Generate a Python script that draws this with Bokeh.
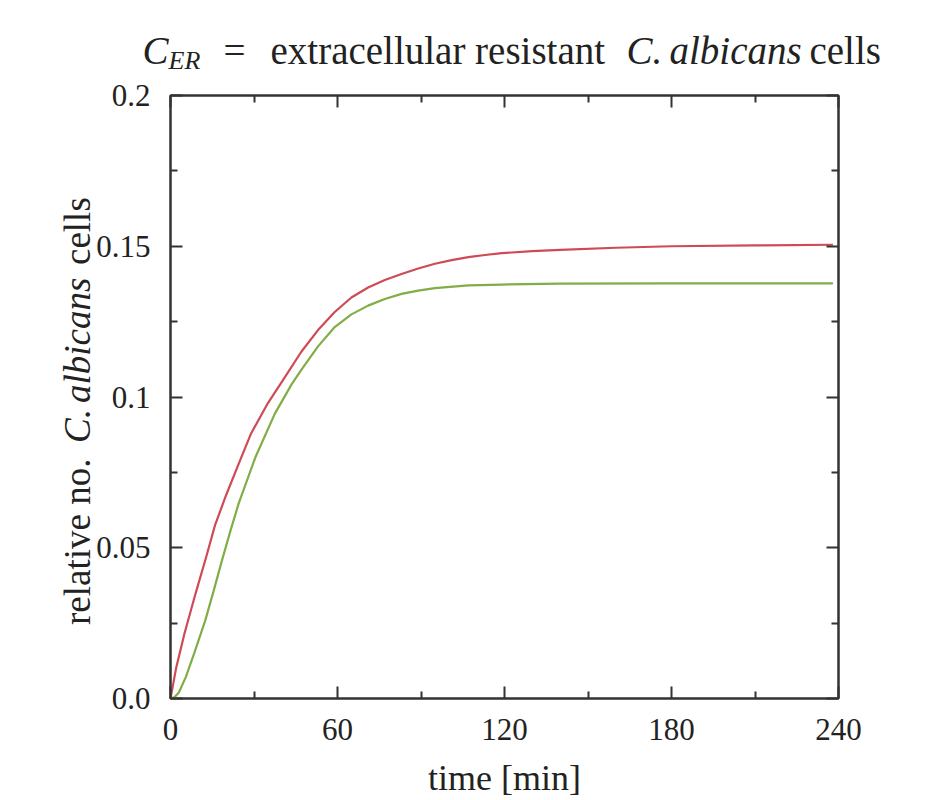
from bokeh.plotting import figure
from bokeh.models import FixedTicker, LinearAxis, Range1d, Div
from bokeh.layouts import column, row
from bokeh.core.properties import value
from bokeh.embed import file_html
from bokeh.resources import INLINE

# ---- data ----
time_red = [0, 2, 5, 9, 13, 16, 20, 25, 29, 35, 40, 47, 53, 59, 65, 71, 77, 83, 89, 95, 101, 107, 113, 119, 130, 140, 160, 180, 210, 238]
red_vals = [0.0, 0.010, 0.0215, 0.0348, 0.0475, 0.0575, 0.0675, 0.0790, 0.0880, 0.0980, 0.1050, 0.1150, 0.1222, 0.1282, 0.1330, 0.1363, 0.1388, 0.1408, 0.1426, 0.1442, 0.1454, 0.1464, 0.1471, 0.1477, 0.1484, 0.1488, 0.1495, 0.1500, 0.1503, 0.1505]

time_green = [0, 1.5, 3, 5.5, 8.5, 12.5, 15.5, 18.5, 21.5, 24.5, 30.5, 37.5, 43.5, 47, 53, 59, 65, 71, 77, 83, 89, 95, 107, 119, 140, 180, 238]
green_vals = [0.0, 0.0005, 0.0020, 0.0071, 0.0150, 0.0259, 0.0357, 0.0458, 0.0555, 0.0647, 0.0800, 0.0945, 0.1042, 0.1090, 0.1168, 0.1232, 0.1274, 0.1303, 0.1325, 0.1342, 0.1353, 0.1361, 0.1370, 0.1373, 0.1376, 0.1377, 0.1377]

x_major = [0, 60, 120, 180, 240]
x_minor = [30, 90, 150, 210]
y_major = [0, 0.05, 0.1, 0.15, 0.2]
y_minor = [0.025, 0.075, 0.125, 0.175]
y_tick_labels = ["0.0", "0.05", "0.1", "0.15", "0.2"]

title_parts = ["C", "ER", "=", "extracellular resistant", "C.", "albicans", "cells"]
ylabel_parts = ["relative no.", "C.", "albicans", "cells"]
xlabel = "time [min]"

FONT = "Liberation Serif"
AX = "#333333"
TXT = "#222222"

TOTAL_W = 900
TITLE_H = 76
YLAB_W = 92
MAIN_H = 680
XLAB_H = 42


def text_fig(w, h, y_top):
    f = figure(width=w, height=h, x_range=Range1d(0, w), y_range=Range1d(y_top + h, y_top),
               output_backend="svg", toolbar_location=None, x_axis_type=None, y_axis_type=None,
               min_border=0, title=None)
    f.outline_line_color = None
    f.background_fill_color = "white"
    f.border_fill_color = "white"
    return f


# ---- title (mixed roman / italic pieces) ----
tf = text_fig(TOTAL_W, TITLE_H, 0)
base = dict(text_font=value(FONT), text_color=TXT, text_baseline="alphabetic", text_align="left")
tf.text(x=[142], y=[50], text=[title_parts[0]], text_font_size="39px", text_font_style="italic", **base)
tf.text(x=[168], y=[60], text=[title_parts[1]], text_font_size="26px", text_font_style="italic", **base)
tf.text(x=[223, 270], y=[50, 50], text=[title_parts[2], title_parts[3]], text_font_size="39px", **base)
tf.text(x=[626, 669], y=[50, 50], text=[title_parts[4], title_parts[5]], text_font_size="39px",
        text_font_style="italic", **base)
tf.text(x=[809], y=[50], text=[title_parts[6]], text_font_size="39px", **base)

# ---- y label: rotated HTML text (mixed roman / italic) ----
span = ('<span style="position:absolute; top:0; left:{}px; white-space:nowrap; line-height:1; '
        'font-style:{};">{}</span>')
ylab_html = (
    '<div style="position:relative; width:{w}px; height:{h}px; overflow:visible;">'
    '<div style="position:absolute; left:59px; top:{t}px; width:450px; height:37px; '
    'transform:rotate(-90deg); transform-origin:0 0; font-family:\'{f}\'; font-size:37px; '
    'color:{c};">'.format(w=YLAB_W, h=MAIN_H, t=625 - TITLE_H, f=FONT, c=TXT)
    + span.format(0, "normal", ylabel_parts[0])
    + span.format(182, "italic", ylabel_parts[1])
    + span.format(222, "italic", ylabel_parts[2])
    + span.format(360, "normal", ylabel_parts[3])
    + '</div></div>'
)
yf = Div(text=ylab_html, width=YLAB_W, height=MAIN_H, margin=0, styles={"overflow": "visible"})

# ---- main plot ----
p = figure(width=TOTAL_W - YLAB_W, height=MAIN_H, x_range=Range1d(0, 240), y_range=Range1d(0, 0.2),
           output_backend="svg", toolbar_location=None, title=None,
           min_border_left=78, min_border_right=TOTAL_W - 838, min_border_top=95 - TITLE_H,
           min_border_bottom=TITLE_H + MAIN_H - 698)
p.background_fill_color = "white"
p.border_fill_color = "white"
p.outline_line_color = AX
p.outline_line_width = 2
p.xgrid.visible = False
p.ygrid.visible = False

xt = FixedTicker(ticks=x_major, minor_ticks=x_minor)
yt = FixedTicker(ticks=y_major, minor_ticks=y_minor)


def style(ax, show_labels):
    ax.axis_line_color = AX
    ax.axis_line_width = 2
    ax.major_tick_line_color = AX
    ax.minor_tick_line_color = AX
    ax.major_tick_line_width = 2
    ax.minor_tick_line_width = 2
    ax.major_tick_in = 12
    ax.major_tick_out = 0
    ax.minor_tick_in = 7
    ax.minor_tick_out = 0
    ax.major_label_text_font = FONT
    ax.major_label_text_color = TXT
    if show_labels:
        ax.major_label_text_font_size = "31px"
    else:
        ax.major_label_text_font_size = "0px"
        ax.major_label_standoff = 0
        ax.major_label_text_alpha = 0


p.xaxis[0].ticker = xt
p.yaxis[0].ticker = yt
style(p.xaxis[0], True)
style(p.yaxis[0], True)
p.xaxis[0].major_label_standoff = 20
p.yaxis[0].major_label_standoff = 20
p.yaxis[0].major_label_overrides = {v: s for v, s in zip(y_major, y_tick_labels)}

top_ax = LinearAxis(ticker=xt)
right_ax = LinearAxis(ticker=yt)
style(top_ax, False)
style(right_ax, False)
p.add_layout(top_ax, "above")
p.add_layout(right_ax, "right")

p.line(time_red, red_vals, line_color="#cf4a55", line_width=2.2)
p.line(time_green, green_vals, line_color="#80ad45", line_width=2.2)

# ---- x label ----
xf = text_fig(TOTAL_W, XLAB_H, TITLE_H + MAIN_H)
xf.text(x=[504], y=[777], text=[xlabel], text_font_size="36px", text_font=value(FONT), text_color=TXT,
        text_baseline="alphabetic", text_align="center")

layout = column(tf, row(yf, p), xf)
open("out.html", "w").write(file_html(layout, INLINE))
